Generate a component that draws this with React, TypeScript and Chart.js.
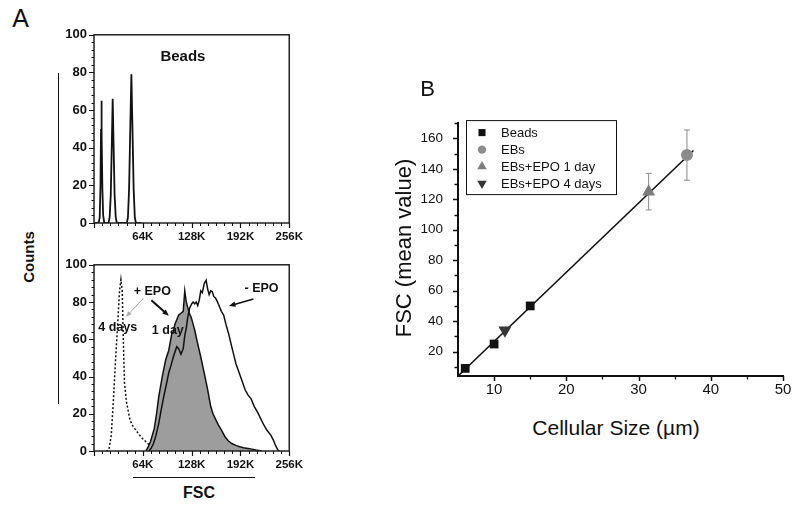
import React, { useEffect, useRef } from 'react';
import { Chart, registerables } from 'chart.js';

Chart.register(...registerables);

const FONT = '"Liberation Sans", Arial, Helvetica, sans-serif';

// ---------- Panel A (top): beads histogram (FSC in K, counts) ----------
const beadsFscK = [0, 6, 7.5, 8.5, 9.2, 9.7, 10.2, 11, 12, 13.5, 19, 20.5, 22, 23.5, 24.5, 25.5, 27, 28.5, 30, 43, 44.5, 46, 47.8, 49, 50.2, 52, 53.5, 55, 62];
const beadsCounts = [0, 0, 3, 20, 50, 65, 48, 18, 4, 0, 0, 3, 15, 45, 66, 45, 15, 3, 0, 0, 3, 18, 55, 79, 55, 18, 3, 0, 0];

// ---------- Panel A (bottom): EB histograms ----------
const epo4dFscK = [16, 19.5, 22.5, 25, 28, 31, 33.5, 35.3, 37, 38.5, 40, 42.7, 47, 50, 53.4, 57, 60, 64, 68, 72, 76.7, 82, 87, 95];
const epo4dCounts = [0, 0.5, 8, 24, 47, 68, 86, 92, 86, 59, 36.5, 26, 17, 14, 12, 10, 8.4, 6.5, 5, 3.5, 2.3, 1.2, 0.5, 0];

const epo1dFscK = [68, 70, 74, 79, 82, 85, 89.5, 94, 98, 102, 104, 106, 108, 111, 114, 117, 119, 121, 123, 125, 127.6, 130, 132, 136, 140, 144.6, 149, 153, 156, 159.5, 163, 166, 172, 176, 180.6, 186, 191, 196, 202, 207, 212, 220];
const epo1dCounts = [0, 1.4, 5, 12, 20, 29.5, 40, 49, 54, 63, 64, 68, 70, 73, 74, 75, 86, 80, 77, 74, 71.6, 68, 65, 57.5, 50.5, 41.7, 33, 24, 20, 17, 14, 12, 7.5, 5.5, 4, 3, 2.3, 1.8, 1.4, 1, 0.5, 0];

const noEpoFscK = [72, 75, 78, 81, 85, 88, 91.6, 95, 98, 101, 104, 106, 108.5, 111, 114, 117, 119, 121, 123, 125.6, 128, 130, 132, 134, 136, 138, 140, 142, 144.6, 147, 149, 151, 153, 155, 157, 159.5, 162, 164, 167, 170, 173, 176.5, 180, 183, 186, 189, 193, 198, 202, 206, 210, 214.6, 219, 223, 227, 232, 235, 238, 241, 243];
const noEpoCounts = [0, 1.5, 4, 8, 15, 22, 29.5, 36, 42, 46, 50.5, 53, 56, 55, 52, 55, 62, 66, 72, 77, 79, 80, 79, 80, 78, 81, 86, 85, 90, 91.7, 87, 84, 86, 85.6, 83, 82, 80, 78, 75, 73, 68, 63, 57, 52, 47, 43.5, 39, 33, 30, 28, 24, 20.7, 17, 13.7, 11, 8.4, 6, 3, 0.5, 0];

const histXTicks = [64, 128, 192, 256];
const histYTicks = [0, 20, 40, 60, 80, 100];

// ---------- Panel B: FSC vs cellular size ----------
const beadSize = [6, 10, 15];
const beadFsc = [9, 25, 50];
const ebSize = [36.7];
const ebFsc = [149];
const ebErr = [16.5];
const epo1Size = [31.4];
const epo1Fsc = [125];
const epo1Err = [12];
const epo4Size = [11.5];
const epo4Fsc = [34];
const fitSize = [5, 37.6];
const fitFsc = [4, 152];

const sizeTicks = [10, 20, 30, 40, 50];
const fscTicks = [20, 40, 60, 80, 100, 120, 140, 160];

const pts = (xs: number[], ys: number[]) => xs.map((x, i) => ({ x, y: ys[i] }));
const range = (a: number, b: number, step: number) => {
  const out: number[] = [];
  for (let v = a; v <= b + 1e-9; v += step) out.push(Math.round(v * 1000) / 1000);
  return out;
};

function drawMarker(ctx: CanvasRenderingContext2D, style: string, x: number, y: number, r: number, rot: number, color: string) {
  ctx.save();
  ctx.fillStyle = color;
  ctx.translate(x, y);
  ctx.rotate((rot * Math.PI) / 180);
  ctx.beginPath();
  if (style === 'rect') {
    const s = r * Math.SQRT1_2;
    ctx.rect(-s, -s, 2 * s, 2 * s);
  } else if (style === 'circle') {
    ctx.arc(0, 0, r, 0, Math.PI * 2);
  } else {
    for (let k = 0; k < 3; k++) {
      const a = (k * 2 * Math.PI) / 3;
      ctx.lineTo(Math.sin(a) * r, -Math.cos(a) * r);
    }
    ctx.closePath();
  }
  ctx.fill();
  ctx.restore();
}

type TickSpec = { axis: 'x' | 'y'; values: number[]; len: number; width: number };
type TextSpec = { text: string; x: number; y: number; size: number; color?: string };
type ArrowSpec = { x1: number; y1: number; x2: number; y2: number; color: string; width: number; head: number };

function makeDecor(o: {
  frame?: boolean;
  ticks?: TickSpec[];
  texts?: TextSpec[];
  arrows?: ArrowSpec[];
  errorColor?: string;
  legend?: boolean;
}) {
  return {
    id: 'decor',
    beforeDatasetsDraw(chart: any) {
      if (!o.errorColor) return;
      const { ctx } = chart;
      const xs = chart.scales.x, ys = chart.scales.y;
      ctx.save();
      ctx.strokeStyle = o.errorColor;
      ctx.lineWidth = 1;
      chart.data.datasets.forEach((ds: any) => {
        if (!ds.errors) return;
        ds.data.forEach((p: any, i: number) => {
          const e = ds.errors[i];
          if (!e) return;
          const px = xs.getPixelForValue(p.x);
          const y1 = ys.getPixelForValue(p.y + e);
          const y2 = ys.getPixelForValue(p.y - e);
          ctx.beginPath();
          ctx.moveTo(px, y1); ctx.lineTo(px, y2);
          ctx.moveTo(px - 3, y1); ctx.lineTo(px + 3, y1);
          ctx.moveTo(px - 3, y2); ctx.lineTo(px + 3, y2);
          ctx.stroke();
        });
      });
      ctx.restore();
    },
    afterDraw(chart: any) {
      const { ctx, chartArea: a } = chart;
      const xs = chart.scales.x, ys = chart.scales.y;
      ctx.save();
      if (o.frame) {
        ctx.strokeStyle = '#222';
        ctx.lineWidth = 1.5;
        ctx.strokeRect(a.left, a.top, a.right - a.left, a.bottom - a.top);
      }
      (o.ticks || []).forEach((t) => {
        ctx.strokeStyle = '#111';
        ctx.lineWidth = t.width;
        ctx.beginPath();
        t.values.forEach((v) => {
          if (t.axis === 'x') {
            const px = Math.round(xs.getPixelForValue(v)) + 0.5;
            ctx.moveTo(px, a.bottom);
            ctx.lineTo(px, a.bottom + t.len);
          } else {
            const py = Math.round(ys.getPixelForValue(v)) + 0.5;
            ctx.moveTo(a.left, py);
            ctx.lineTo(a.left - t.len, py);
          }
        });
        ctx.stroke();
      });
      (o.arrows || []).forEach((ar) => {
        const x1 = xs.getPixelForValue(ar.x1), y1 = ys.getPixelForValue(ar.y1);
        const x2 = xs.getPixelForValue(ar.x2), y2 = ys.getPixelForValue(ar.y2);
        const ang = Math.atan2(y2 - y1, x2 - x1);
        const h = ar.head;
        ctx.strokeStyle = ar.color;
        ctx.fillStyle = ar.color;
        ctx.lineWidth = ar.width;
        ctx.beginPath();
        ctx.moveTo(x1, y1);
        ctx.lineTo(x2 - Math.cos(ang) * h * 0.8, y2 - Math.sin(ang) * h * 0.8);
        ctx.stroke();
        ctx.beginPath();
        ctx.moveTo(x2, y2);
        ctx.lineTo(x2 - Math.cos(ang - 0.4) * h, y2 - Math.sin(ang - 0.4) * h);
        ctx.lineTo(x2 - Math.cos(ang + 0.4) * h, y2 - Math.sin(ang + 0.4) * h);
        ctx.closePath();
        ctx.fill();
      });
      (o.texts || []).forEach((t) => {
        ctx.font = `bold ${t.size}px ${FONT}`;
        ctx.fillStyle = t.color || '#111';
        ctx.textAlign = 'center';
        ctx.textBaseline = 'middle';
        ctx.fillText(t.text, xs.getPixelForValue(t.x), ys.getPixelForValue(t.y));
      });
      if (o.legend) {
        const bx = a.left + 8, by = a.top - 3, bw = 150, bh = 74;
        ctx.fillStyle = '#fff';
        ctx.fillRect(bx, by, bw, bh);
        ctx.strokeStyle = '#111';
        ctx.lineWidth = 1;
        ctx.strokeRect(bx + 0.5, by + 0.5, bw, bh);
        const items = chart.data.datasets.filter((d: any) => d.legendRadius);
        items.forEach((d: any, i: number) => {
          const cy = by + 12.5 + i * 17;
          drawMarker(ctx, d.pointStyle, bx + 16, cy, d.legendRadius, d.rotation || 0, d.backgroundColor);
          ctx.font = `13px ${FONT}`;
          ctx.fillStyle = '#111';
          ctx.textAlign = 'left';
          ctx.textBaseline = 'middle';
          ctx.fillText(d.label, bx + 35, cy + 1);
        });
      }
      ctx.restore();
    },
  };
}

function histOptions(xH: number) {
  return {
    responsive: false,
    animation: false,
    devicePixelRatio: 1,
    layout: { padding: { top: 11, right: 15, left: 0, bottom: 0 } },
    plugins: { legend: { display: false }, tooltip: { enabled: false } },
    elements: { point: { radius: 0 }, line: { tension: 0 } },
    scales: {
      x: {
        type: 'linear',
        min: 0,
        max: 256,
        grid: { display: false, drawTicks: false },
        border: { display: false },
        afterBuildTicks: (s: any) => { s.ticks = histXTicks.map((v) => ({ value: v })); },
        afterFit: (s: any) => { s.height = xH; },
        ticks: {
          callback: (v: any) => `${v}K`,
          font: { family: FONT, size: 11.5, weight: 'bold' },
          color: '#111',
          padding: 7,
          maxRotation: 0,
          autoSkip: false,
        },
      },
      y: {
        type: 'linear',
        min: 0,
        max: 100,
        grid: { display: false, drawTicks: false },
        border: { display: false },
        afterBuildTicks: (s: any) => { s.ticks = histYTicks.map((v) => ({ value: v })); },
        afterFit: (s: any) => { s.width = 54; },
        ticks: {
          font: { family: FONT, size: 13, weight: 'bold' },
          color: '#111',
          padding: 7,
          autoSkip: false,
        },
      },
    },
  };
}

const histTickSpecs: TickSpec[] = [
  { axis: 'x', values: range(0, 256, 64), len: 5, width: 1.2 },
  { axis: 'x', values: range(0, 256, 64 / 6), len: 3, width: 1 },
  { axis: 'y', values: histYTicks, len: 5, width: 1.2 },
  { axis: 'y', values: range(0, 100, 4), len: 2.5, width: 1 },
];

function beadsConfig(): any {
  return {
    type: 'line',
    data: {
      datasets: [
        { label: 'Beads', data: pts(beadsFscK, beadsCounts), borderColor: '#111', borderWidth: 1.8, fill: false },
      ],
    },
    options: histOptions(27),
    plugins: [
      makeDecor({
        frame: true,
        ticks: histTickSpecs,
        texts: [{ text: 'Beads', x: 116.6, y: 88.5, size: 15 }],
      }),
    ],
  };
}

function ebHistConfig(): any {
  return {
    type: 'line',
    data: {
      datasets: [
        { label: '- EPO', data: pts(noEpoFscK, noEpoCounts), borderColor: '#111', borderWidth: 1.5, fill: false },
        { label: '+ EPO 1 day', data: pts(epo1dFscK, epo1dCounts), borderColor: '#111', borderWidth: 1.5, backgroundColor: '#9d9d9d', fill: 'origin' },
        { label: '+ EPO 4 days', data: pts(epo4dFscK, epo4dCounts), borderColor: '#111', borderWidth: 1.5, borderDash: [2, 2], fill: false },
      ],
    },
    options: histOptions(29),
    plugins: [
      makeDecor({
        frame: true,
        ticks: histTickSpecs,
        arrows: [
          { x1: 65, y1: 82.1, x2: 42, y2: 72.1, color: '#aaa', width: 1, head: 6 },
          { x1: 75.2, y1: 81, x2: 98.1, y2: 72.6, color: '#111', width: 2, head: 7 },
          { x1: 209, y1: 81.6, x2: 177, y2: 77.9, color: '#111', width: 1.6, head: 7 },
        ],
        texts: [
          { text: '+ EPO', x: 76.4, y: 85.8, size: 12.5 },
          { text: '4 days', x: 31.2, y: 66.3, size: 12.5 },
          { text: '1 day', x: 96.8, y: 64.7, size: 12.5 },
          { text: '- EPO', x: 219.7, y: 87.4, size: 12.5 },
        ],
      }),
    ],
  };
}

function scatterConfig(): any {
  return {
    type: 'scatter',
    data: {
      datasets: [
        { label: 'Beads', data: pts(beadSize, beadFsc), pointStyle: 'rect', pointRadius: 6.2, backgroundColor: '#111', borderColor: '#111', borderWidth: 0, legendRadius: 5 },
        { label: 'EBs', data: pts(ebSize, ebFsc), errors: ebErr, pointStyle: 'circle', pointRadius: 6, backgroundColor: '#8c8c8c', borderColor: '#8c8c8c', borderWidth: 0, legendRadius: 4.2 },
        { label: 'EBs+EPO 1 day', data: pts(epo1Size, epo1Fsc), errors: epo1Err, pointStyle: 'triangle', pointRadius: 7.5, backgroundColor: '#7d7d7d', borderColor: '#7d7d7d', borderWidth: 0, legendRadius: 5.5 },
        { label: 'EBs+EPO 4 days', data: pts(epo4Size, epo4Fsc), pointStyle: 'triangle', rotation: 180, pointRotation: 180, pointRadius: 7.5, backgroundColor: '#363636', borderColor: '#363636', borderWidth: 0, legendRadius: 5.5 },
        { type: 'line', label: 'fit', data: pts(fitSize, fitFsc), borderColor: '#111', borderWidth: 1.6, pointRadius: 0, showLine: true, fill: false },
      ],
    },
    options: {
      responsive: false,
      animation: false,
      devicePixelRatio: 1,
      layout: { padding: { top: 12, right: 17, left: 0, bottom: 0 } },
      plugins: { legend: { display: false }, tooltip: { enabled: false } },
      scales: {
        x: {
          type: 'linear',
          min: 5,
          max: 50,
          grid: { display: false, drawTicks: false },
          border: { display: true, color: '#111', width: 2 },
          afterBuildTicks: (s: any) => { s.ticks = sizeTicks.map((v) => ({ value: v })); },
          afterFit: (s: any) => { s.height = 24; },
          ticks: { font: { family: FONT, size: 15 }, color: '#111', padding: 5, maxRotation: 0, autoSkip: false },
        },
        y: {
          type: 'linear',
          min: 4,
          max: 170,
          grid: { display: false, drawTicks: false },
          border: { display: true, color: '#111', width: 2 },
          afterBuildTicks: (s: any) => { s.ticks = fscTicks.map((v) => ({ value: v })); },
          afterFit: (s: any) => { s.width = 78; },
          ticks: { font: { family: FONT, size: 13.5 }, color: '#111', padding: 15, autoSkip: false },
        },
      },
    },
    plugins: [
      makeDecor({
        errorColor: '#8a8a8a',
        legend: true,
        ticks: [
          { axis: 'x', values: sizeTicks, len: 5, width: 1.5 },
          { axis: 'x', values: range(15, 45, 10), len: 3.5, width: 1.3 },
          { axis: 'y', values: fscTicks, len: 5, width: 1.5 },
          { axis: 'y', values: range(10, 170, 20), len: 3.5, width: 1.3 },
        ],
      }),
    ],
  };
}

function ChartCanvas(props: { make: () => any; left: number; top: number; width: number; height: number }) {
  const ref = useRef<HTMLCanvasElement>(null);
  useEffect(() => {
    const chart = new Chart(ref.current as HTMLCanvasElement, props.make());
    return () => chart.destroy();
  }, []);
  return (
    <canvas
      ref={ref}
      width={props.width}
      height={props.height}
      style={{ position: 'absolute', left: props.left, top: props.top, width: props.width, height: props.height, display: 'block' }}
    />
  );
}

function Label(props: { x: number; y: number; text: string; size: number; bold?: boolean; rotate?: number }) {
  return (
    <div
      style={{
        position: 'absolute',
        left: props.x,
        top: props.y,
        transform: `translate(-50%, -50%) rotate(${props.rotate || 0}deg)`,
        fontFamily: FONT,
        fontSize: props.size,
        fontWeight: props.bold ? 'bold' : 'normal',
        lineHeight: 1,
        whiteSpace: 'nowrap',
        color: '#111',
      }}
    >
      {props.text}
    </div>
  );
}

export default function App() {
  return (
    <div style={{ position: 'absolute', left: 0, top: 0, width: 800, height: 507, background: '#fff', overflow: 'hidden' }}>
      <ChartCanvas make={beadsConfig} left={40} top={20} width={270} height={230} />
      <ChartCanvas make={ebHistConfig} left={40} top={250} width={270} height={230} />
      <ChartCanvas make={scatterConfig} left={380} top={100} width={420} height={300} />
      <Label x={20.5} y={18} text="A" size={25} />
      <Label x={28} y={257} text="Counts" size={15} bold rotate={-90} />
      <div style={{ position: 'absolute', left: 57.5, top: 73, width: 1.5, height: 331, background: '#111' }} />
      <Label x={199} y={493} text="FSC" size={16} bold />
      <div style={{ position: 'absolute', left: 133, top: 476.5, width: 122, height: 1.5, background: '#111' }} />
      <Label x={427.5} y={88.5} text="B" size={22} />
      <Label x={404} y={248} text="FSC (mean value)" size={22} rotate={-90} />
      <Label x={616} y={427} text="Cellular Size (µm)" size={21} />
    </div>
  );
}
